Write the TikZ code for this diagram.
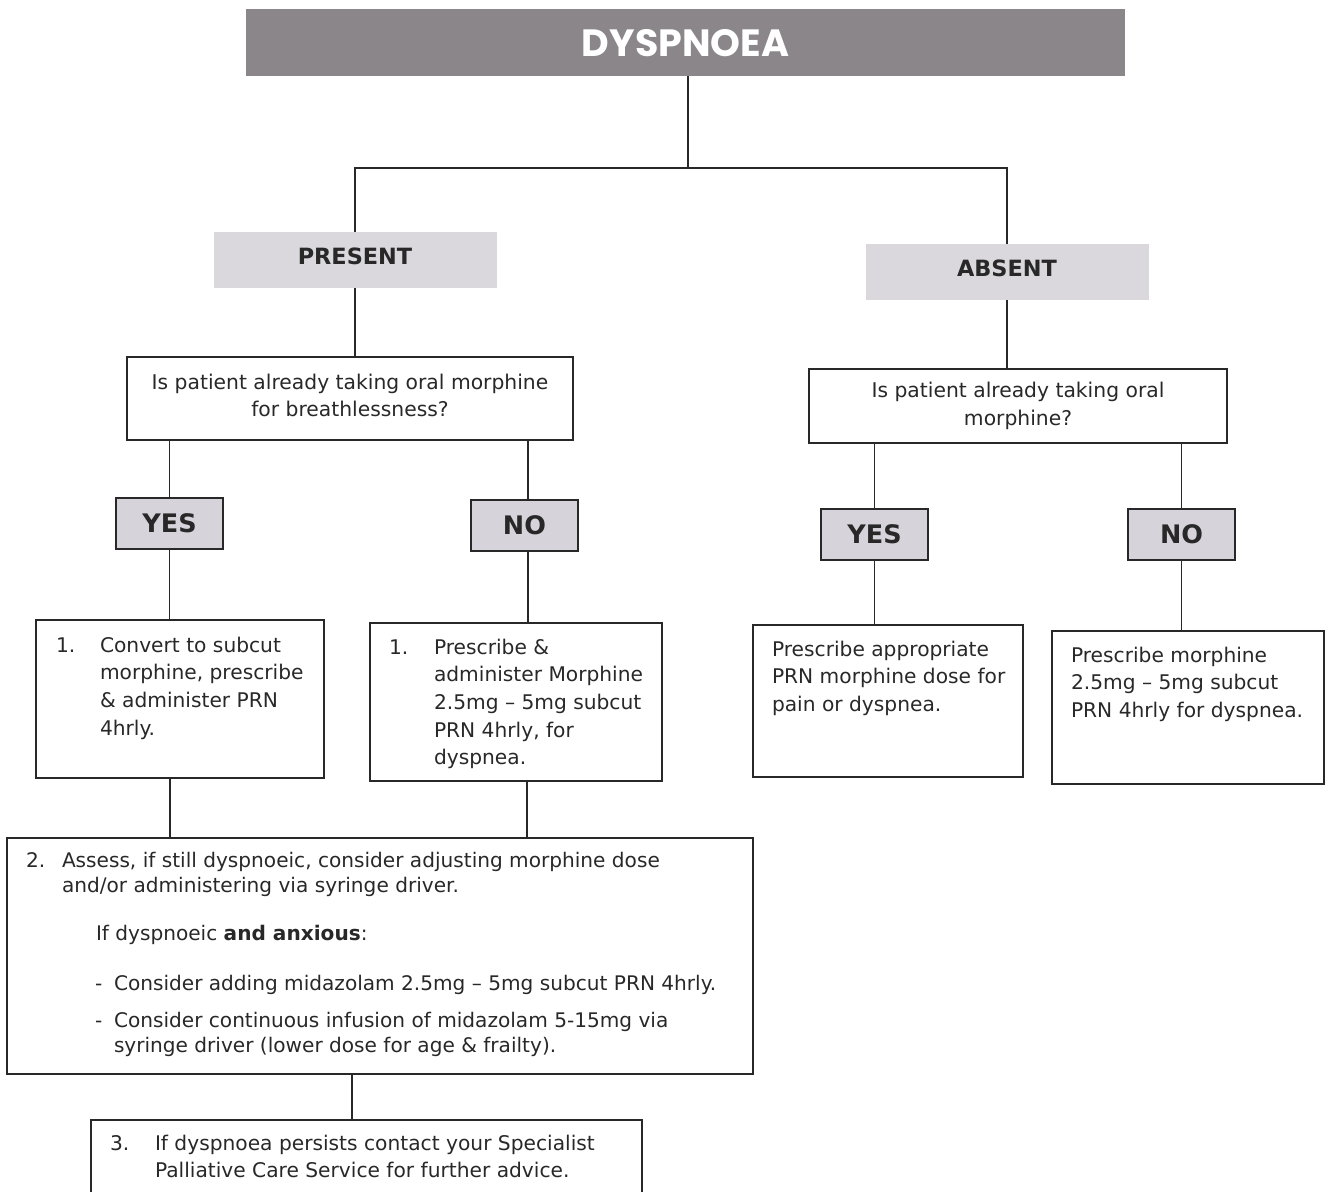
\documentclass[tikz,border=0pt]{standalone}
\usepackage{fontspec}
\setmainfont{DejaVu Sans}
\newfontfamily\titlefont{Poppins}
\definecolor{titlegray}{RGB}{138,134,138}
\definecolor{lightfill}{RGB}{218,216,221}
\definecolor{btnfill}{RGB}{214,212,218}
\definecolor{ink}{RGB}{40,40,40}
\begin{document}
\begin{tikzpicture}[x=1pt,y=-1pt,
  line width=1.3pt,
  every node/.style={inner sep=0pt,outer sep=0pt,text=ink},
  titlebox/.style={fill=titlegray,anchor=north west,minimum width=879pt,minimum height=67pt},
  headbox/.style={fill=lightfill,anchor=north west,minimum width=283pt,minimum height=56pt},
  headtext/.style={font=\fontsize{22.4}{26}\selectfont\bfseries},
  btnbox/.style={draw=ink,fill=btnfill,anchor=north west,minimum width=107pt,minimum height=51pt,font=\fontsize{25.5}{30}\selectfont\bfseries},
  framebox/.style={draw=ink,anchor=north west},
  qtext/.style={align=center,font=\fontsize{20.3}{27.5}\selectfont},
  btext/.style={anchor=north west,align=left,font=\fontsize{20.2}{27.7}\selectfont},
  ctext/.style={anchor=north west,align=left,font=\fontsize{20.1}{25}\selectfont},
  dtext/.style={anchor=north west,align=left,font=\fontsize{20.2}{27}\selectfont},
  conn/.style={draw=ink,line width=1.3pt}
]
\path[use as bounding box] (0,0) rectangle (1329,1191);
\clip (0,0) rectangle (1329,1191);

% title
\node[titlebox] (title) at (246,9) {};
\node[text=white,font=\titlefont\fontsize{38}{42}\selectfont\bfseries] (titletext) at ([yshift=-1pt]title.center) {DYSPNOEA};

% heads
\node[headbox] (present) at (213.5,232) {};
\node[headtext] (presentt) at ([yshift=4pt]present.center) {PRESENT};
\node[headbox] (absent) at (865.5,244) {};
\node[headtext] (absentt) at ([yshift=4pt]absent.center) {ABSENT};

% questions
\node[framebox,minimum width=446pt,minimum height=83pt] (q1) at (127,357) {};
\node[qtext] (q1t) at ([yshift=3pt]q1.center) {Is patient already taking oral morphine\\for breathlessness?};
\node[framebox,minimum width=418pt,minimum height=74pt] (q2) at (809,369) {};
\node[qtext] (q2t) at (q2.center) {Is patient already taking oral\\morphine?};

% yes/no
\node[btnbox] (yes1) at (116,498) {YES};
\node[btnbox] (no1) at (471,500) {NO};
\node[btnbox] (yes2) at (821,509) {YES};
\node[btnbox] (no2) at (1128,509) {NO};

% action boxes
\node[framebox,minimum width=288pt,minimum height=158pt] (a1) at (36,620) {};
\node[btext] (a1n) at (56,632.6) {\strut 1.};
\node[btext] (a1t) at (100,632.6) {\strut Convert to subcut\\morphine, prescribe\\\& administer PRN\\4hrly.};

\node[framebox,minimum width=292pt,minimum height=158pt] (a2) at (370,623) {};
\node[btext] (a2n) at (389,634.6) {\strut 1.};
\node[btext] (a2t) at (434,634.6) {\strut Prescribe \&\\administer Morphine\\2.5mg – 5mg subcut\\PRN 4hrly, for\\dyspnea.};

\node[framebox,minimum width=270pt,minimum height=152pt] (a3) at (753,625) {};
\node[btext] (a3t) at (772,636.6) {\strut Prescribe appropriate\\PRN morphine dose for\\pain or dyspnea.};

\node[framebox,minimum width=272pt,minimum height=153pt] (a4) at (1052,631) {};
\node[btext] (a4t) at (1071,642.6) {\strut Prescribe morphine\\2.5mg – 5mg subcut\\PRN 4hrly for dyspnea.};

% box 2
\node[framebox,minimum width=746pt,minimum height=236pt] (b) at (7,838) {};
\node[ctext] (bn) at (26,849.5) {\strut 2.};
\node[ctext] (bt1) at (62,849.5) {\strut Assess, if still dyspnoeic, consider adjusting morphine dose\\and/or administering via syringe driver.};
\node[ctext] (bt2) at (96,922.5) {\strut If dyspnoeic \textbf{and anxious}:};
\node[ctext] (bd1) at (95,972.5) {\strut -};
\node[ctext] (bt3) at (114,972.5) {\strut Consider adding midazolam 2.5mg – 5mg subcut PRN 4hrly.};
\node[ctext] (bd2) at (95,1009.5) {\strut -};
\node[ctext] (bt4) at (114,1009.5) {\strut Consider continuous infusion of midazolam 5-15mg via\\syringe driver (lower dose for age \& frailty).};

% box 3
\node[framebox,minimum width=551pt,minimum height=100pt] (c) at (91,1120) {};
\node[dtext] (cn) at (110,1131.1) {\strut 3.};
\node[dtext] (ct) at (155,1131.1) {\strut If dyspnoea persists contact your Specialist\\Palliative Care Service for further advice.};

% connectors
\coordinate (j1) at (688,168);
\draw[conn] (title.south -| j1) -- (j1);
\draw[conn] (present.north) |- (j1) -| (absent.north);
\draw[conn] (present.south) -- (present.south |- q1.north);
\draw[conn] (absent.south) -- (absent.south |- q2.north);
\draw[conn] (yes1.north |- q1.south) -- (yes1.north);
\draw[conn] ([xshift=3.5pt]no1.north |- q1.south) -- ([xshift=3.5pt]no1.north);
\draw[conn] (yes2.north |- q2.south) -- (yes2.north);
\draw[conn] (no2.north |- q2.south) -- (no2.north);
\draw[conn] (yes1.south) -- (yes1.south |- a1.north);
\draw[conn] ([xshift=3.5pt]no1.south) -- ([xshift=3.5pt]no1.south |- a2.north);
\draw[conn] (yes2.south) -- (yes2.south |- a3.north);
\draw[conn] (no2.south) -- (no2.south |- a4.north);
\draw[conn] ([xshift=-10pt]a1.south) -- ([xshift=-10pt]a1.south |- b.north);
\draw[conn] ([xshift=11pt]a2.south) -- ([xshift=11pt]a2.south |- b.north);
\draw[conn] ([xshift=-14.5pt]c.north |- b.south) -- ([xshift=-14.5pt]c.north);
\end{tikzpicture}
\end{document}
